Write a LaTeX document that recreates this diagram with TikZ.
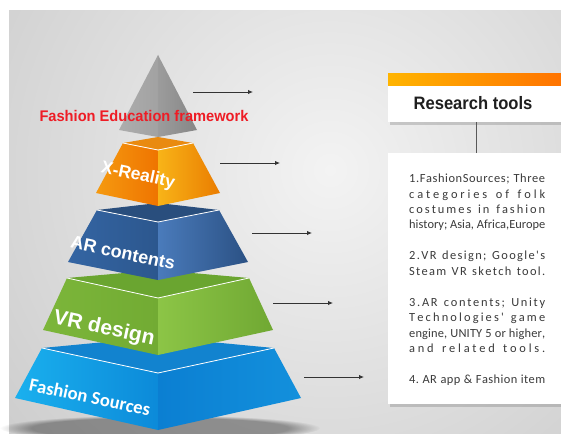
\documentclass[tikz,border=0pt]{standalone}
\usepackage{fontspec}
\setmainfont{Liberation Sans}
\newfontfamily\bodyfont{Carlito}
\usetikzlibrary{shadows,arrows.meta,fadings}

\newlength\distwidth
\setlength\distwidth{136pt}

\ExplSyntaxOn
\tl_new:N \l_dist_tl
\seq_new:N \l_dist_seq
\bool_new:N \l_dist_first_bool
\cs_new_protected:Npn \distline #1
  {
    \tl_clear:N \l_dist_tl
    \seq_set_split:Nnn \l_dist_seq { ~ } { #1 }
    \bool_set_true:N \l_dist_first_bool
    \seq_map_inline:Nn \l_dist_seq
      {
        \bool_if:NF \l_dist_first_bool
          { \tl_put_right:Nn \l_dist_tl { \hskip 0pt plus 1fil\relax \hskip \fontdimen 2 \font\relax } }
        \bool_set_false:N \l_dist_first_bool
        \tl_map_inline:nn { ##1 }
          { \tl_put_right:Nn \l_dist_tl { \hskip 0pt plus 1fil\relax ####1 } }
      }
    \hbox to \distwidth { \hskip 0pt plus -1fil\relax \l_dist_tl }
  }
\ExplSyntaxOff

\definecolor{bgin}{HTML}{F3F3F3}
\definecolor{bgout}{HTML}{CDCDCD}
\definecolor{grL1}{HTML}{ADADAD}\definecolor{grL2}{HTML}{A2A2A2}
\definecolor{grR1}{HTML}{9C9C9C}\definecolor{grR2}{HTML}{868686}
\definecolor{orT}{HTML}{E98A10}
\definecolor{orL1}{HTML}{F59A10}\definecolor{orL2}{HTML}{EF7400}
\definecolor{orR1}{HTML}{F8B418}\definecolor{orR2}{HTML}{EA7C00}
\definecolor{dbT}{HTML}{294E7D}
\definecolor{dbL1}{HTML}{3465A3}\definecolor{dbL2}{HTML}{2C578E}
\definecolor{dbR1}{HTML}{4A7BBB}\definecolor{dbR2}{HTML}{2B5184}
\definecolor{gnT}{HTML}{6AA530}
\definecolor{gnL1}{HTML}{7CB63A}\definecolor{gnL2}{HTML}{72AB33}
\definecolor{gnR1}{HTML}{8CC546}\definecolor{gnR2}{HTML}{70A833}
\definecolor{lbT}{HTML}{1283CF}
\definecolor{lbL1}{HTML}{1AB0EE}\definecolor{lbL2}{HTML}{0C8AD9}
\definecolor{lbR1}{HTML}{0B7FD2}\definecolor{lbR2}{HTML}{1390DC}
\definecolor{titlered}{HTML}{EE1C25}
\definecolor{barL}{HTML}{FFB400}\definecolor{barR}{HTML}{FF6E00}
\definecolor{bodytext}{HTML}{3A3A3A}

\tikzset{
  hilite/.style={white, line width=0.8pt},
  arr/.style={-{Latex[length=5pt,width=4.5pt]}, line width=0.9pt, black!80},
  lab/.style={inner sep=0pt, text=white},
  bodyline/.style={inner sep=0pt, anchor=base west, text=bodytext, font=\bodyfont\fontsize{12.4}{14}\selectfont},
  panel/.style={fill=white, drop shadow={shadow xshift=1.5pt, shadow yshift=-2.5pt, opacity=0.35}},
}

\begin{document}
\begin{tikzpicture}[x=1pt,y=-1pt]
\useasboundingbox (0,0) rectangle (561,433);
\clip (0,0) rectangle (561,433);
\fill[white] (0,0) rectangle (561,433);
\begin{scope}
  \clip (9,11) rectangle (561,433);
  \shade[inner color=bgin, outer color=bgout] (330,170) circle (420);
\end{scope}

% shadow under pyramid
\fill[black, opacity=0.35, path fading=circle with fuzzy edge 20 percent] (160,428) ellipse [x radius=160, y radius=13];

% ---- light blue layer
\shade[left color=lbL1, right color=lbL2] (42,348) -- (158,373) -- (158,430) -- (15,398) -- cycle;
\shade[left color=lbR1, right color=lbR2] (158,373) -- (274,348) -- (301,398) -- (158,430) -- cycle;
\fill[lbT] (42,348) -- (158,337) -- (274,348) -- (158,373) -- cycle;
\draw[hilite] (42,348) -- (158,373) -- (274,348);

% ---- green layer
\shade[left color=gnL1, right color=gnL2] (67,278) -- (158,298) -- (158,355) -- (43,330) -- cycle;
\shade[left color=gnR1, right color=gnR2] (158,298) -- (249,278) -- (273,330) -- (158,355) -- cycle;
\fill[gnT] (67,278) -- (158,270) -- (249,278) -- (158,298) -- cycle;
\draw[hilite] (67,278) -- (158,298) -- (249,278);

% ---- dark blue layer
\shade[left color=dbL1, right color=dbL2] (97,210) -- (158,222) -- (158,280) -- (68,262) -- cycle;
\shade[left color=dbR1, right color=dbR2] (158,222) -- (219,210) -- (248,262) -- (158,280) -- cycle;
\fill[dbT] (97,210) -- (158,203) -- (219,210) -- (158,222) -- cycle;
\draw[hilite] (97,210) -- (158,222) -- (219,210);

% ---- orange layer
\shade[left color=orL1, right color=orL2] (123,143) -- (158,150) -- (158,206) -- (96,193) -- cycle;
\shade[left color=orR1, right color=orR2] (158,150) -- (193,143) -- (220,193) -- (158,206) -- cycle;
\fill[orT] (123,143) -- (158,137) -- (193,143) -- (158,150) -- cycle;
\draw[hilite] (123,143) -- (158,150) -- (193,143);

% ---- gray pyramid
\shade[left color=grL1, right color=grL2] (158,55) -- (158,137) -- (119,130) -- cycle;
\shade[left color=grR1, right color=grR2] (158,55) -- (197,130) -- (158,137) -- cycle;

% ---- labels
\node[inner sep=0pt, font=\bfseries\fontsize{15.4}{18}\selectfont, text=titlered, xscale=0.95] (title) at (144,116) {Fashion Education framework};

\node[lab, font=\bfseries\fontsize{17.5}{20}\selectfont, rotate=-12] (xr) at (138,176) {X-Reality};
\node[lab, font=\bfseries\fontsize{18}{20}\selectfont, rotate=-12] (ar) at (123,253) {AR contents};
\node[lab, font=\bfseries\fontsize{21}{24}\selectfont, rotate=-12] (vr) at (104,329) {VR design};
\node[lab, font=\bodyfont\bfseries\fontsize{18.6}{20}\selectfont, rotate=-12] (fs) at (90,397) {Fashion Sources};

% ---- arrows
\coordinate (a1s) at (193,92); \coordinate (a1e) at (253,92);
\coordinate (a2s) at (220,163); \coordinate (a2e) at (280,163);
\coordinate (a3s) at (252,233); \coordinate (a3e) at (312,233);
\coordinate (a4s) at (273,303); \coordinate (a4e) at (333,303);
\coordinate (a5s) at (304,377); \coordinate (a5e) at (364,377);
\draw[arr] (a1s) -- (a1e);
\draw[arr] (a2s) -- (a2e);
\draw[arr] (a3s) -- (a3e);
\draw[arr] (a4s) -- (a4e);
\draw[arr] (a5s) -- (a5e);

% ---- research tools box
\node[panel, draw=none, minimum width=187pt, minimum height=48pt, inner sep=0pt, anchor=north west] (rt) at (388,74) {};
\shade[left color=barL, right color=barR] (rt.north west) rectangle ([yshift=-12pt]rt.north east);
\node[inner sep=0pt, font=\bfseries\fontsize{18}{20}\selectfont, text=black!88, xscale=0.92] (rtt) at (473,103) {Research tools};

% ---- text box
\node[panel, minimum width=187pt, minimum height=251pt, inner sep=0pt, anchor=north west] (tb) at (388,153) {};
\draw[line width=0.8pt, black!65] ([xshift=-5.5pt]rt.south) -- ([xshift=-5.5pt]rt.south |- tb.north);

\node[bodyline] (l1) at (409,182.5) {\distline{1.FashionSources; Three}};
\node[bodyline] (l2) at (409,198.0) {\distline{categories of folk}};
\node[bodyline] (l3) at (409,213.4) {\distline{costumes in fashion}};
\node[bodyline] (l4) at (409,228.9) {\distline{history; Asia, Africa,Europe}};
\node[bodyline] (l5) at (409,259.8) {\distline{2.VR design; Google's}};
\node[bodyline] (l6) at (409,275.2) {\distline{Steam VR sketch tool.}};
\node[bodyline] (l7) at (409,306.1) {\distline{3.AR contents; Unity}};
\node[bodyline] (l8) at (409,321.6) {\distline{Technologies' game}};
\node[bodyline] (l9) at (409,337.0) {\distline{engine, UNITY 5 or higher,}};
\node[bodyline] (l10) at (409,352.5) {\distline{and related tools.}};
\node[bodyline] (l11) at (409,383.4) {\distline{4. AR app \& Fashion item}};
\end{tikzpicture}
\end{document}
